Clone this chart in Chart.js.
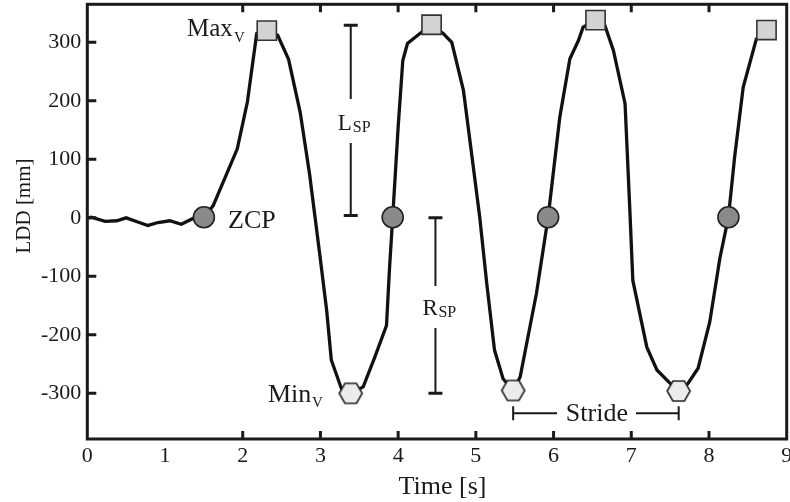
<!DOCTYPE html>
<html><head><meta charset="utf-8">
<script src="https://cdn.jsdelivr.net/npm/chart.js@4.4.1/dist/chart.umd.min.js"></script>
<style>html,body{margin:0;padding:0;background:#fff}#wrap{width:790px;height:502px;position:relative}</style>
</head><body><div id="wrap"><canvas id="c" width="790" height="502"></canvas></div>
<script>
// ---- data ----
const timeS = [0,0.05,0.23,0.38,0.50,0.65,0.78,0.91,1.06,1.21,1.36,1.50,1.62,1.93,2.06,2.18,2.31,2.45,2.59,2.74,2.86,2.99,3.08,3.14,3.27,3.39,3.55,3.70,3.85,3.89,3.93,4.00,4.06,4.12,4.28,4.43,4.58,4.69,4.84,4.94,5.05,5.14,5.24,5.35,5.48,5.57,5.78,5.93,6.08,6.21,6.32,6.38,6.54,6.66,6.77,6.92,6.98,7.02,7.20,7.33,7.50,7.61,7.73,7.86,8.01,8.14,8.25,8.33,8.44,8.61,8.74];
const lddMm = [-1,1,-6,-5,0,-7,-13,-8,-5,-11,-1,0,21,118,198,315,320,312,271,180,75,-61,-158,-243,-292,-300,-289,-238,-184,-84,1,155,269,298,315,330,315,300,218,115,1,-112,-226,-275,-295,-272,-129,1,172,272,303,326,338,329,286,195,18,-107,-221,-260,-283,-296,-283,-257,-178,-69,1,104,223,306,321];
const zcpTime = [1.50,3.93,5.93,8.25];
const zcpLdd = [1,1,1,1];
const maxTime = [2.31,4.43,6.54,8.74];
const maxLdd = [320,330,338,321];
const minTime = [3.39,5.48,7.61];
const minLdd = [-300,-295,-296];
const xTickValues = [0,1,2,3,4,5,6,7,8,9];
const yTickValues = [-300,-200,-100,0,100,200,300];
const xTickMarks = [2,3,4,5,6,7,8];
const yTickMarks = [-300,-200,-100,0,100,200,300];

// annotation bars (data coordinates)
const lspBar = {x:3.39, y0:4, y1:329};
const rspBar = {x:4.48, y0:0, y1:-300};
const strideBar = {y:-334, x0:5.48, x1:7.61};

const SERIF = "'Liberation Serif','Times New Roman',serif";
const INK = '#1a1a1a';

function hexCanvas(w,h,fill,stroke,lw){
  const c=document.createElement('canvas');c.width=w+4;c.height=h+4;
  const g=c.getContext('2d');const cx=c.width/2, cy=c.height/2;
  g.beginPath();g.moveTo(cx-w/2,cy);g.lineTo(cx-w/4,cy-h/2);g.lineTo(cx+w/4,cy-h/2);
  g.lineTo(cx+w/2,cy);g.lineTo(cx+w/4,cy+h/2);g.lineTo(cx-w/4,cy+h/2);g.closePath();
  g.fillStyle=fill;g.fill();g.lineWidth=lw;g.strokeStyle=stroke;g.stroke();return c;
}
const hexImg = hexCanvas(23,20,'#ececec','#222',1.6);

const pts = (xs,ys)=>xs.map((x,i)=>({x:x,y:ys[i]}));

const overlay = {
  id:'overlay',
  afterDraw(chart){
    const ctx=chart.ctx, a=chart.chartArea, xs=chart.scales.x, ys=chart.scales.y;
    ctx.save();
    // inward ticks
    ctx.strokeStyle=INK; ctx.lineWidth=3; ctx.lineCap='butt';
    ctx.beginPath();
    xTickMarks.forEach(v=>{const px=xs.getPixelForValue(v);
      ctx.moveTo(px,a.bottom);ctx.lineTo(px,a.bottom-8);
      ctx.moveTo(px,a.top);ctx.lineTo(px,a.top+8);});
    yTickMarks.forEach(v=>{const py=ys.getPixelForValue(v);
      ctx.moveTo(a.left,py);ctx.lineTo(a.left+9,py);});
    ctx.stroke();
    // frame
    ctx.lineWidth=3; ctx.strokeRect(a.left,a.top,a.right-a.left,a.bottom-a.top);

    // annotation bars
    ctx.lineWidth=2; ctx.strokeStyle=INK;
    function vbar(x,y0,y1,gapTop,gapBot){
      const px=xs.getPixelForValue(x), p0=ys.getPixelForValue(y0), p1=ys.getPixelForValue(y1);
      const top=Math.min(p0,p1), bot=Math.max(p0,p1);
      ctx.beginPath();ctx.moveTo(px,top);ctx.lineTo(px,gapTop);ctx.moveTo(px,gapBot);ctx.lineTo(px,bot);ctx.stroke();
      ctx.lineWidth=3;ctx.beginPath();ctx.moveTo(px-7,top);ctx.lineTo(px+7,top);ctx.moveTo(px-7,bot);ctx.lineTo(px+7,bot);ctx.stroke();
      ctx.lineWidth=2;
      return px;
    }
    const lx=vbar(lspBar.x,lspBar.y0,lspBar.y1,99,143);
    const rx=vbar(rspBar.x,rspBar.y0,rspBar.y1,286,328);
    // stride bar
    const sy=ys.getPixelForValue(strideBar.y), sx0=xs.getPixelForValue(strideBar.x0), sx1=xs.getPixelForValue(strideBar.x1);
    ctx.beginPath();ctx.moveTo(sx0,sy);ctx.lineTo(557,sy);ctx.moveTo(636,sy);ctx.lineTo(sx1,sy);ctx.stroke();
    ctx.beginPath();ctx.moveTo(sx0,sy-7);ctx.lineTo(sx0,sy+7);ctx.moveTo(sx1,sy-7);ctx.lineTo(sx1,sy+7);ctx.stroke();

    // texts
    ctx.fillStyle=INK; ctx.textBaseline='alphabetic';
    function txt(s,x,y,size,align){ctx.font=size+'px '+SERIF;ctx.textAlign=align||'left';ctx.fillText(s,x,y);}
    txt('Max',187,36,25); txt('V',234,41.5,15);
    txt('ZCP',228,227.5,26);
    txt('Min',268,401.5,26); txt('V',312,406.5,15);
    txt('L',lx-13,129.5,23); txt('SP',lx+2,131.5,16);
    txt('R',rx-13,315,23); txt('SP',rx+3,317,16);
    txt('Stride',(sx0+sx1)/2+1,421,26,'center');
    // axis titles
    txt('Time [s]',442.5,494,26,'center');
    ctx.save(); ctx.translate(29.5,206); ctx.rotate(-Math.PI/2);
    txt('LDD [mm]',0,0,21,'center'); ctx.restore();
    ctx.restore();
  }
};

new Chart(document.getElementById('c'),{
  type:'scatter',
  data:{datasets:[
    {label:'ZCP',data:pts(zcpTime,zcpLdd),pointStyle:'circle',pointRadius:10.5,pointBackgroundColor:'#8a8a8a',pointBorderColor:'#222',pointBorderWidth:1.6,showLine:false,order:1},
    {label:'MaxV',data:pts(maxTime,maxLdd),pointStyle:'rect',pointRadius:13.6,pointBackgroundColor:'#d3d3d3',pointBorderColor:'#333',pointBorderWidth:1.6,showLine:false,order:1},
    {label:'MinV',data:pts(minTime,minLdd),pointStyle:hexImg,pointRadius:11,showLine:false,order:1},
    {label:'LDD',data:pts(timeS,lddMm),showLine:true,borderColor:'#111',borderWidth:3.3,pointRadius:0,tension:0,fill:false,order:5,clip:false}
  ]},
  options:{
    responsive:false, devicePixelRatio:1, animation:false,
    layout:{autoPadding:false,padding:{left:0,right:3.3,top:4.3,bottom:0}},
    plugins:{legend:{display:false},tooltip:{enabled:false}},
    scales:{
      x:{type:'linear',position:'bottom',min:0,max:9,
        afterBuildTicks:s=>{s.ticks=xTickValues.map(v=>({value:v}));},
        afterFit:s=>{s.height=63;s.paddingLeft=0;s.paddingRight=0;s.paddingTop=0;s.paddingBottom=0;},
        grid:{display:false,drawTicks:false},border:{display:false},
        ticks:{padding:4,maxRotation:0,color:INK,font:{family:SERIF,size:22},callback:v=>String(v)}},
      y:{type:'linear',position:'left',min:-378,max:365,
        afterBuildTicks:s=>{s.ticks=yTickValues.map(v=>({value:v}));},
        afterFit:s=>{s.width=87.3;s.paddingLeft=0;s.paddingRight=0;s.paddingTop=0;s.paddingBottom=0;},
        grid:{display:false,drawTicks:false},border:{display:false},
        ticks:{padding:6,color:INK,font:{family:SERIF,size:22},callback:v=>String(v)}}
    }
  },
  plugins:[overlay]
});
</script></body></html>
